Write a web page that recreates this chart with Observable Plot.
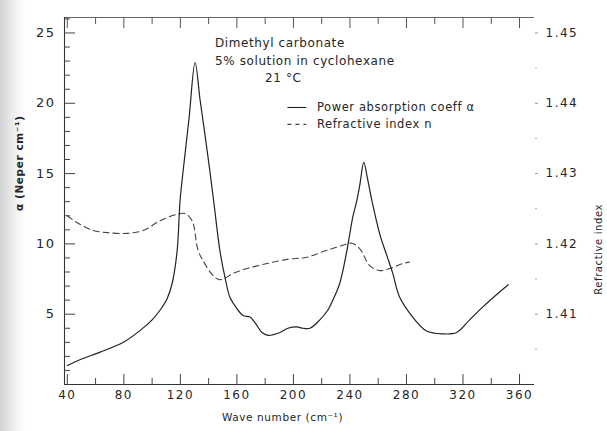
<!DOCTYPE html>
<html><head><meta charset="utf-8">
<script src="https://cdn.jsdelivr.net/npm/d3@7"></script>
<script src="https://cdn.jsdelivr.net/npm/@observablehq/plot@0.6"></script>
<style>
html,body{margin:0;padding:0;}
body{width:607px;height:431px;overflow:hidden;background:linear-gradient(to right,#d2d2d2 0px,#e4e4e4 9px,#f6f6f6 18px,#fff 26px);}
#chart svg{display:block;}
#chart svg text{fill:#262626;}
#chart g[aria-label="x-axis tick label"] text,#chart g[aria-label="y-axis tick label"] text{letter-spacing:1.5px;}
#chart g[aria-label="text"] text{letter-spacing:0.6px;}
</style></head><body><div id="chart"></div><script>
// Power absorption coefficient alpha (Neper cm^-1) vs wave number (cm^-1)
const waveAlpha = [40, 49.2, 63.3, 79.6, 91.6, 100, 105.7, 110.6, 114.2, 117.7, 119.8, 122.3, 126.2, 130.4, 134, 139, 143.5, 148, 151.6, 155.1, 160, 164.3, 169.3, 172.8, 177.8, 182, 190.5, 196.1, 202.5, 206.7, 211.7, 218.7, 224.4, 227.9, 232.8, 237.8, 242, 244.9, 247, 249.8, 252.5, 255.5, 261.1, 266, 270.3, 275.2, 284.4, 294.3, 305.6, 315.5, 324.7, 333.9, 347.3, 352];
const alphaValues = [1.35, 1.78, 2.3, 3.0, 3.85, 4.6, 5.3, 6.1, 7.2, 9.5, 13.1, 15.5, 19.0, 22.9, 20.2, 16.6, 13.1, 9.5, 7.6, 6.2, 5.4, 4.9, 4.8, 4.4, 3.7, 3.5, 3.7, 4.0, 4.1, 4.0, 4.0, 4.6, 5.3, 6.0, 7.2, 9.5, 11.9, 13.1, 14.2, 15.8, 14.6, 13.1, 10.7, 9.2, 7.9, 6.2, 4.8, 3.8, 3.6, 3.7, 4.6, 5.5, 6.7, 7.1];
// Refractive index n vs wave number
const waveN = [40, 47.1, 58.4, 68.3, 82.4, 93.7, 105.7, 117.7, 123.4, 128.3, 132.5, 136.1, 143.1, 148.1, 157.3, 167.2, 181.3, 195.4, 209.5, 223.7, 235, 241.3, 247, 254, 261.1, 268.2, 277.4, 282];
const nValues = [1.4240, 1.4230, 1.4219, 1.4216, 1.4215, 1.4219, 1.4233, 1.4242, 1.4243, 1.4233, 1.4191, 1.4176, 1.4155, 1.4149, 1.4158, 1.4165, 1.4172, 1.4178, 1.4181, 1.4191, 1.4198, 1.4201, 1.4193, 1.4169, 1.4162, 1.4165, 1.4172, 1.4174];

const xMajorTicks = [40, 80, 120, 160, 200, 240, 280, 320, 360];
const xMinorTicks = [60, 100, 140, 180, 220, 260, 300, 340];
const yMajorTicks = [5, 10, 15, 20, 25];
const yMinorTicks = [1, 2, 3, 4, 6, 7, 8, 9, 11, 12, 13, 14, 16, 17, 18, 19, 21, 22, 23, 24, 26];
const nMajorTicks = [1.41, 1.42, 1.43, 1.44, 1.45];
const nMinorTicks = [1.405, 1.415, 1.425, 1.435, 1.445];
const titleLines = ["Dimethyl carbonate", "5% solution in cyclohexane", "21 °C"];
const legendLabels = ["Power absorption coeff α", "Refractive index n"];
const xLabel = "Wave number (cm⁻¹)";
const yLabel = "α (Neper cm⁻¹)";
const nLabel = "Refractive index";

const xDomain = [38, 370.6];
const yDomain = [0, 26.1];
const nBase = 1.40, nPerAlpha = 0.002;
const nToAlpha = n => (n - nBase) / nPerAlpha;

const alphaData = waveAlpha.map((w, i) => ({w, a: alphaValues[i]}));
const nData = waveN.map((w, i) => ({w, n: nValues[i]}));

const ink = "#262626";
const chart = Plot.plot({
  width: 607, height: 431,
  marginLeft: 64, marginRight: 73, marginTop: 17, marginBottom: 47,
  style: {fontFamily: "'DejaVu Sans', sans-serif", fontSize: "12px", background: "transparent", color: ink},
  x: {domain: xDomain, label: null},
  y: {domain: yDomain, label: null},
  marks: [
    // frame lines
    Plot.ruleY([yDomain[0]], {stroke: "#333", strokeWidth: 1.1}),
    Plot.ruleY([yDomain[1]], {stroke: "#555", strokeWidth: 0.9}),
    Plot.ruleX([xDomain[0]], {stroke: "#333", strokeWidth: 1.1}),
    // bottom axis
    Plot.axisX(xMajorTicks, {anchor: "bottom", label: null, tickSize: -10, tickFormat: () => "", stroke: "#444"}),
    Plot.axisX(xMinorTicks, {anchor: "bottom", label: null, tickSize: -6, tickFormat: () => "", stroke: "#444"}),
    Plot.axisX(xMajorTicks, {anchor: "bottom", label: null, tickSize: 0, tickPadding: 6, fontSize: 12}),
    // top axis
    Plot.axisX(xMajorTicks, {anchor: "top", label: null, tickSize: -10, tickFormat: () => "", stroke: "#555"}),
    Plot.axisX(xMinorTicks, {anchor: "top", label: null, tickSize: -6, tickFormat: () => "", stroke: "#555"}),
    // left axis
    Plot.axisY(yMajorTicks, {anchor: "left", label: null, tickSize: -11, tickFormat: () => "", stroke: "#444"}),
    Plot.axisY(yMinorTicks, {anchor: "left", label: null, tickSize: -6, tickFormat: () => "", stroke: "#444"}),
    Plot.axisY(yMajorTicks, {anchor: "left", label: null, tickSize: 0, tickPadding: 9, fontSize: 13}),
    // right axis (refractive index)
    Plot.axisY(nMajorTicks.map(nToAlpha), {anchor: "right", label: null, tickSize: 3, tickPadding: 8, stroke: "#999", fontSize: 12,
      tickFormat: d => (nBase + d * nPerAlpha).toFixed(2)}),
    Plot.axisY(nMinorTicks.map(nToAlpha), {anchor: "right", label: null, tickSize: 2, tickFormat: () => "", stroke: "#aaa"}),
    // curves
    Plot.line(nData, {x: "w", y: d => nToAlpha(d.n), stroke: "#444", strokeWidth: 1.1, strokeDasharray: "6,4", curve: "catmull-rom"}),
    Plot.line(alphaData, {x: "w", y: "a", stroke: "#222", strokeWidth: 1.2, curve: "catmull-rom"}),
    // annotation
    Plot.text([titleLines[0]], {x: 144.5, y: 24.3, text: d => d, textAnchor: "start", fontSize: 12, fill: ink}),
    Plot.text([titleLines[1]], {x: 144.5, y: 23.0, text: d => d, textAnchor: "start", fontSize: 12, fill: ink}),
    Plot.text([titleLines[2]], {x: 179.9, y: 21.8, text: d => d, textAnchor: "start", fontSize: 12, fill: ink}),
    // legend
    Plot.ruleY([19.7], {x1: 196.1, x2: 209.5, stroke: "#222", strokeWidth: 1.1}),
    Plot.ruleY([18.5], {x1: 196.1, x2: 209.5, stroke: "#444", strokeWidth: 1.1, strokeDasharray: "4,4"}),
    Plot.text([legendLabels[0]], {x: 216.6, y: 19.7, text: d => d, textAnchor: "start", fontSize: 11.5, fill: ink}),
    Plot.text([legendLabels[1]], {x: 216.6, y: 18.5, text: d => d, textAnchor: "start", fontSize: 11.5, fill: ink}),
    // axis titles
    Plot.text([xLabel], {frameAnchor: "bottom", dx: -17, dy: 36, text: d => d, fontSize: 10.5, fill: ink}),
    Plot.text([yLabel], {frameAnchor: "left", dx: -45, dy: 10, rotate: -90, text: d => d, fontSize: 10.5, fontWeight: "bold", fill: ink}),
    Plot.text([nLabel], {frameAnchor: "right", dx: 64, dy: 3, rotate: -90, text: d => d, fontSize: 10, fill: ink})
  ]
});
document.getElementById("chart").append(chart);
</script></body></html>
